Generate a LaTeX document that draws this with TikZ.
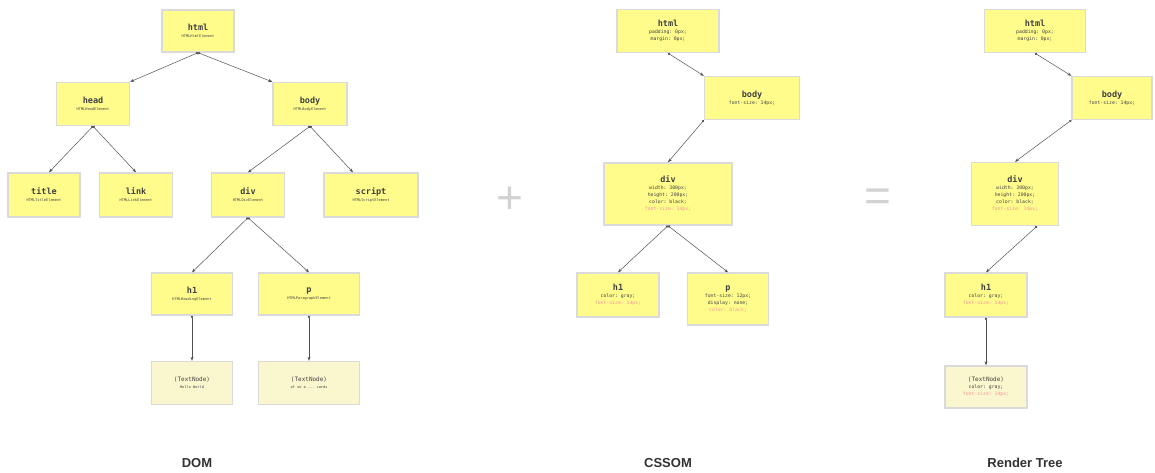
\documentclass[tikz,border=0pt]{standalone}
\usepackage{fontspec}
\setmonofont{DejaVu Sans Mono}
\setsansfont{Liberation Sans}
\usetikzlibrary{arrows.meta}

\definecolor{boxfill}{RGB}{255,252,140}
\definecolor{textfill}{RGB}{250,247,206}
\definecolor{boxline}{RGB}{218,218,218}
\definecolor{inherited}{RGB}{245,150,150}
\definecolor{edge}{RGB}{80,80,80}
\definecolor{signgray}{RGB}{210,210,210}
\definecolor{caption}{RGB}{50,50,50}

\newcommand{\tagname}[1]{{\fontsize{8.5}{10}\selectfont\bfseries #1}}
\newcommand{\domtype}[1]{{\fontsize{3.6}{5}\selectfont #1}}
\newcommand{\inh}[1]{\textcolor{inherited}{#1}}

\tikzset{
	elem/.style={draw=boxline, line width=1.4pt, fill=boxfill, align=center, inner sep=1pt,
		font=\ttfamily\fontsize{4.8}{7}\selectfont, text=black!75},
	textnode/.style={elem, fill=textfill},
	link/.style={draw=edge, line width=0.5pt, {Circle[length=2.4pt]}-{Stealth[length=4pt]}},
	sign/.style={font=\sffamily\fontsize{46}{46}\selectfont, text=signgray},
	treename/.style={font=\sffamily\bfseries\fontsize{13}{15}\selectfont, text=caption}
}

\begin{document}
\begin{tikzpicture}[x=1pt, y=-1pt]
		\useasboundingbox (0,0) rectangle (1155,472);

		\node [elem, minimum width=72, minimum height=42] (html) at (198,31) {\tagname{html}\\\domtype{HTMLHtmlElement}};
		\node [elem, minimum width=73, minimum height=43] (head) at (93,104) {\tagname{head}\\\domtype{HTMLHeadElement}};
		\node [elem, minimum width=74, minimum height=43] (body) at (310,104) {\tagname{body}\\\domtype{HTMLBodyElement}};
		\node [elem, minimum width=72, minimum height=44] (title) at (44,195) {\tagname{title}\\\domtype{HTMLTitleElement}};
		\node [elem, minimum width=73, minimum height=44] (linkel) at (136,195) {\tagname{link}\\\domtype{HTMLLinkElement}};
		\node [elem, minimum width=73, minimum height=44] (div) at (248,195) {\tagname{div}\\\domtype{HTMLDivElement}};
		\node [elem, minimum width=94, minimum height=44] (script) at (371,195) {\tagname{script}\\\domtype{HTMLScriptElement}};
		\node [elem, minimum width=81, minimum height=42] (h1) at (192,294) {\tagname{h1}\\\domtype{HTMLHeadingElement}};
		\node [elem, minimum width=101, minimum height=42] (p) at (309,294) {\tagname{p}\\\domtype{HTMLParagraphElement}};
		\node [textnode, minimum width=81, minimum height=43] (hello) at (192,383) {{\fontsize{6}{8}\selectfont (TextNode)}\\\domtype{Hello World}};
		\node [textnode, minimum width=101, minimum height=43] (words) at (309,383) {{\fontsize{6}{8}\selectfont (TextNode)}\\\domtype{of so a ... cards}};

		\draw [link] (html.south) -- (head.north east);
		\draw [link] (html.south) -- (body.north west);
		\draw [link] (head.south) -- ([xshift=5]title.north);
		\draw [link] (head.south) -- (linkel.north);
		\draw [link] (body.south) -- (div.north);
		\draw [link] (body.south) -- ([xshift=-18]script.north);
		\draw [link] (div.south) -- (h1.north);
		\draw [link] (div.south) -- (p.north);
		\draw [link] (h1.south) -- (hello.north);
		\draw [link] (p.south) -- (words.north);

		\node [sign] (plus) at (510,200) {+};

		\node [elem, minimum width=102, minimum height=43] (cssHtml) at (668,31) {\tagname{html}\\padding: 0px;\\margin: 0px;};
		\node [elem, minimum width=95, minimum height=43] (cssBody) at (752,98) {\tagname{body}\\font-size: 14px;};
		\node [elem, minimum width=128, minimum height=62] (cssDiv) at (668,194) {\tagname{div}\\width: 300px;\\height: 200px;\\color: black;\\\inh{font-size: 14px;}};
		\node [elem, minimum width=82, minimum height=44] (cssH) at (618,295) {\tagname{h1}\\color: gray;\\\inh{font-size: 14px;}};
		\node [elem, minimum width=81, minimum height=52] (cssP) at (728,299) {\tagname{p}\\font-size: 12px;\\display: none;\\\inh{color: black;}};

		\draw [link] (cssHtml.south) -- (cssBody.north west);
		\draw [link] (cssBody.south west) -- (cssDiv.north);
		\draw [link] (cssDiv.south) -- (cssH.north);
		\draw [link] (cssDiv.south) -- (cssP.north);

		\node [sign] (equals) at (878,200) {=};

		\node [elem, minimum width=101, minimum height=43] (rHtml) at (1035,31) {\tagname{html}\\padding: 0px;\\margin: 0px;};
		\node [elem, minimum width=80, minimum height=43] (rBody) at (1112,98) {\tagname{body}\\font-size: 14px;};
		\node [elem, minimum width=87, minimum height=63] (rDiv) at (1015,194) {\tagname{div}\\width: 300px;\\height: 200px;\\color: black;\\\inh{font-size: 14px;}};
		\node [elem, minimum width=82, minimum height=44] (rH) at (986,295) {\tagname{h1}\\color: gray;\\\inh{font-size: 14px;}};
		\node [textnode, minimum width=82, minimum height=42] (rText) at (986,387) {{\fontsize{6}{8}\selectfont (TextNode)}\\color: gray;\\\inh{font-size: 14px;}};

		\draw [link] (rHtml.south) -- (rBody.north west);
		\draw [link] (rBody.south west) -- (rDiv.north);
		\draw [link] ([xshift=22]rDiv.south) -- (rH.north);
		\draw [link] (rH.south) -- (rText.north);

		\node [treename] (domName) at (197,463) {DOM};
		\node [treename] (cssomName) at (668,463) {CSSOM};
		\node [treename] (renderName) at (1025,463) {Render Tree};
\end{tikzpicture}
\end{document}
